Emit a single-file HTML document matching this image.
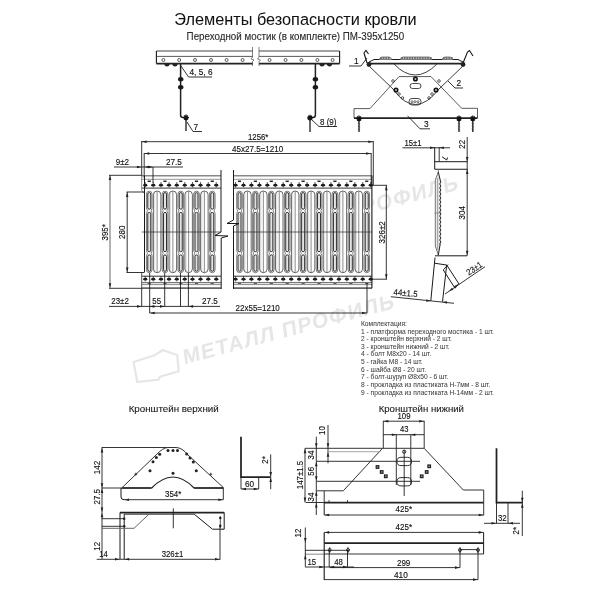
<!DOCTYPE html>
<html><head><meta charset="utf-8"><style>
html,body{margin:0;padding:0;background:#fff;}
svg{display:block;will-change:transform;filter:blur(0.35px);}
text{font-family:"Liberation Sans",sans-serif;}
</style></head><body>
<svg width="600" height="600" viewBox="0 0 600 600">
<rect width="600" height="600" fill="#fff"/>
<g fill="#e6e6e6" font-weight="bold" font-size="21">
<text x="184" y="364.5" transform="rotate(-15 184 364.5) translate(184 364.5) skewX(-8) translate(-184 -364.5)" textLength="218" lengthAdjust="spacing">МЕТАЛЛ ПРОФИЛЬ</text>
<text x="248" y="246" transform="rotate(-15 248 246) translate(248 246) skewX(-8) translate(-248 -246)" textLength="218" lengthAdjust="spacing">МЕТАЛЛ ПРОФИЛЬ</text>
</g>
<path d="M133.5,362 L154.7,355.3 L162.7,350 L177.3,355.3 L178.7,371.3 L160,376.7 L158.7,379.5 L137.3,382 Z" fill="none" stroke="#e6e6e6" stroke-width="2.2"/>
<text x="174.3" y="25" font-size="16.3" fill="#111" stroke="#111" stroke-width="0.03" text-anchor="start">Элементы безопасности кровли</text>
<text x="186.6" y="40" font-size="9.8" fill="#2a2a2a" stroke="#2a2a2a" stroke-width="0.12" text-anchor="start" transform="translate(186.6 40) scale(1 1.13) translate(-186.6 -40)">Переходной мостик (в комплекте) ПМ-395x1250</text>
<line x1="156.4" y1="51" x2="253" y2="51" stroke="#444" stroke-width="1.00"/>
<line x1="156.4" y1="56.4" x2="253" y2="56.4" stroke="#444" stroke-width="0.88"/>
<line x1="156.4" y1="63.6" x2="253" y2="63.6" stroke="#222" stroke-width="1.62"/>
<line x1="259" y1="51" x2="339.6" y2="51" stroke="#444" stroke-width="1.00"/>
<line x1="259" y1="56.4" x2="339.6" y2="56.4" stroke="#444" stroke-width="0.88"/>
<line x1="259" y1="63.6" x2="339.6" y2="63.6" stroke="#222" stroke-width="1.62"/>
<line x1="156.4" y1="51" x2="156.4" y2="63.6" stroke="#1a1a1a" stroke-width="1.12"/>
<line x1="339.6" y1="51" x2="339.6" y2="63.6" stroke="#1a1a1a" stroke-width="1.12"/>
<path d="M252.5,47 L252.5,57 L251,59 L254,60 L252.5,61.5 L252.5,66" fill="none" stroke="#555" stroke-width="0.75"/>
<path d="M259,47 L259,57 L257.5,59 L260.5,60 L259,61.5 L259,66" fill="none" stroke="#555" stroke-width="0.75"/>
<circle cx="163.4" cy="60" r="1.5" fill="none" stroke="#1a1a1a" stroke-width="0.7"/>
<circle cx="179.2" cy="60" r="1.5" fill="none" stroke="#1a1a1a" stroke-width="0.7"/>
<circle cx="195" cy="60" r="1.5" fill="none" stroke="#1a1a1a" stroke-width="0.7"/>
<circle cx="211" cy="60" r="1.5" fill="none" stroke="#1a1a1a" stroke-width="0.7"/>
<circle cx="226.6" cy="60" r="1.5" fill="none" stroke="#1a1a1a" stroke-width="0.7"/>
<circle cx="242.6" cy="60" r="1.5" fill="none" stroke="#1a1a1a" stroke-width="0.7"/>
<circle cx="269.6" cy="60" r="1.5" fill="none" stroke="#1a1a1a" stroke-width="0.7"/>
<circle cx="285.6" cy="60" r="1.5" fill="none" stroke="#1a1a1a" stroke-width="0.7"/>
<circle cx="301.4" cy="60" r="1.5" fill="none" stroke="#1a1a1a" stroke-width="0.7"/>
<circle cx="317.4" cy="60" r="1.5" fill="none" stroke="#1a1a1a" stroke-width="0.7"/>
<circle cx="332.6" cy="60" r="1.5" fill="none" stroke="#1a1a1a" stroke-width="0.7"/>
<path d="M164.4,64 A2.6,2.4 0 0 0 169.6,64 Z" fill="#222"/>
<path d="M172.4,64 A2.6,2.4 0 0 0 177.6,64 Z" fill="#222"/>
<path d="M319.4,64 A2.6,2.4 0 0 0 324.6,64 Z" fill="#222"/>
<path d="M326.9,64 A2.6,2.4 0 0 0 332.1,64 Z" fill="#222"/>
<path d="M180.6,64 L180.6,115 Q180.6,117.5 183,117.5 L186,117.5" fill="none" stroke="#222" stroke-width="1.50"/>
<ellipse cx="180.7" cy="79.3" rx="2.7" ry="2.2" fill="#1a1a1a"/>
<ellipse cx="180.7" cy="87.2" rx="2.7" ry="2.2" fill="#1a1a1a"/>
<path d="M183,117.5 L189,117.5 M186,114.5 L186,120.5 M184,115.5 L188,119.5 M188,115.5 L184,119.5" fill="none" stroke="#111" stroke-width="1.25"/>
<line x1="186" y1="119" x2="186" y2="131" stroke="#111" stroke-width="1.25"/>
<line x1="184" y1="117.5" x2="188" y2="117.5" stroke="#1a1a1a" stroke-width="1.00"/>
<path d="M315.4,64 L315.4,115 Q315.4,117.5 313,117.5 L310,117.5" fill="none" stroke="#222" stroke-width="1.50"/>
<ellipse cx="315.4" cy="79.3" rx="2.7" ry="2.2" fill="#1a1a1a"/>
<ellipse cx="315.4" cy="87.2" rx="2.7" ry="2.2" fill="#1a1a1a"/>
<path d="M307,117.8 L313,117.8 M310,114.8 L310,120.8 M308,115.8 L312,119.8 M312,115.8 L308,119.8" fill="none" stroke="#111" stroke-width="1.25"/>
<line x1="310" y1="119" x2="310" y2="132" stroke="#111" stroke-width="1.25"/>
<polyline points="181,66 188.5,77 212,77" fill="none" stroke="#1a1a1a" stroke-width="0.88"/>
<text x="189.5" y="75.5" font-size="8.3" fill="#111" stroke="#111" stroke-width="0.12" text-anchor="start" transform="translate(189.5 75.5) scale(1 1.13) translate(-189.5 -75.5)">4, 5, 6</text>
<polyline points="187,122 193,131.5 202,131.5" fill="none" stroke="#1a1a1a" stroke-width="0.88"/>
<text x="193.5" y="130" font-size="8.3" fill="#111" stroke="#111" stroke-width="0.12" text-anchor="start" transform="translate(193.5 130) scale(1 1.13) translate(-193.5 -130)">7</text>
<polyline points="312,120 319,126.5 337,126.5" fill="none" stroke="#1a1a1a" stroke-width="0.88"/>
<text x="320" y="125" font-size="8.0" fill="#111" stroke="#111" stroke-width="0.12" text-anchor="start" transform="translate(320 125) scale(1 1.13) translate(-320 -125)">8 (9)</text>
<line x1="367" y1="63.5" x2="463" y2="63.5" stroke="#222" stroke-width="1.75"/>
<path d="M369,62 L374,59.5 L458,59.5 L463,62" fill="none" stroke="#1a1a1a" stroke-width="1.00"/>
<path d="M379,59.5 Q380,57 382,57 L389,57 Q391,57 392,59.5" fill="#ddd" stroke="#555" stroke-width="0.7"/>
<ellipse cx="381.0" cy="58" rx="1.1" ry="0.9" fill="#666"/>
<ellipse cx="383.6" cy="58" rx="1.1" ry="0.9" fill="#666"/>
<ellipse cx="386.2" cy="58" rx="1.1" ry="0.9" fill="#666"/>
<ellipse cx="388.8" cy="58" rx="1.1" ry="0.9" fill="#666"/>
<path d="M400,59.5 Q401,57 403,57 L429,57 Q431,57 432,59.5" fill="#ddd" stroke="#555" stroke-width="0.7"/>
<ellipse cx="402.0" cy="58" rx="1.1" ry="0.9" fill="#666"/>
<ellipse cx="404.6" cy="58" rx="1.1" ry="0.9" fill="#666"/>
<ellipse cx="407.2" cy="58" rx="1.1" ry="0.9" fill="#666"/>
<ellipse cx="409.8" cy="58" rx="1.1" ry="0.9" fill="#666"/>
<ellipse cx="412.4" cy="58" rx="1.1" ry="0.9" fill="#666"/>
<ellipse cx="415.0" cy="58" rx="1.1" ry="0.9" fill="#666"/>
<ellipse cx="417.6" cy="58" rx="1.1" ry="0.9" fill="#666"/>
<ellipse cx="420.2" cy="58" rx="1.1" ry="0.9" fill="#666"/>
<ellipse cx="422.8" cy="58" rx="1.1" ry="0.9" fill="#666"/>
<ellipse cx="425.4" cy="58" rx="1.1" ry="0.9" fill="#666"/>
<ellipse cx="428.0" cy="58" rx="1.1" ry="0.9" fill="#666"/>
<ellipse cx="430.6" cy="58" rx="1.1" ry="0.9" fill="#666"/>
<path d="M442,59.5 Q443,57 445,57 L450,57 Q452,57 453,59.5" fill="#ddd" stroke="#555" stroke-width="0.7"/>
<ellipse cx="444.0" cy="58" rx="1.1" ry="0.9" fill="#666"/>
<ellipse cx="446.6" cy="58" rx="1.1" ry="0.9" fill="#666"/>
<ellipse cx="449.2" cy="58" rx="1.1" ry="0.9" fill="#666"/>
<ellipse cx="451.8" cy="58" rx="1.1" ry="0.9" fill="#666"/>
<path d="M367,63 L364,53 L366,50.5 L368.5,54" fill="none" stroke="#1a1a1a" stroke-width="1.12"/>
<path d="M463,63 L467.5,52 L469.5,50.5 L473,56" fill="none" stroke="#1a1a1a" stroke-width="1.12"/>
<circle cx="369" cy="64.5" r="2.4" fill="#222" stroke="#1a1a1a" stroke-width="0"/>
<circle cx="463" cy="64.5" r="2.4" fill="#222" stroke="#1a1a1a" stroke-width="0"/>
<path d="M394,64 Q415,86 437,64" fill="none" stroke="#333" stroke-width="0.94"/>
<path d="M369,66 L393,89 Q415,120 439,89 L463,66" fill="none" stroke="#333" stroke-width="0.94"/>
<path d="M354,108.6 L370,108.6 L399,76.6 L431,76.6 L461.7,108.3 L477.5,108.3 L477.5,118" fill="none" stroke="#444" stroke-width="0.88"/>
<line x1="354" y1="108.6" x2="354" y2="118" stroke="#444" stroke-width="0.88"/>
<line x1="354" y1="118" x2="477.5" y2="118" stroke="#222" stroke-width="1.75"/>
<circle cx="415.4" cy="79" r="1.8" fill="#bbb" stroke="#111" stroke-width="1.5"/>
<circle cx="396" cy="90" r="1.8" fill="#bbb" stroke="#111" stroke-width="1.5"/>
<circle cx="436" cy="90" r="1.8" fill="#bbb" stroke="#111" stroke-width="1.5"/>
<circle cx="393" cy="81" r="1.3" fill="none" stroke="#1a1a1a" stroke-width="0.7"/>
<circle cx="439" cy="81" r="1.3" fill="none" stroke="#1a1a1a" stroke-width="0.7"/>
<circle cx="399" cy="94" r="1.3" fill="none" stroke="#1a1a1a" stroke-width="0.7"/>
<circle cx="402.5" cy="98" r="1.3" fill="none" stroke="#1a1a1a" stroke-width="0.7"/>
<circle cx="432" cy="94" r="1.3" fill="none" stroke="#1a1a1a" stroke-width="0.7"/>
<circle cx="429" cy="98" r="1.3" fill="none" stroke="#1a1a1a" stroke-width="0.7"/>
<rect x="410" y="83.5" width="11" height="5" rx="2.5" fill="none" stroke="#1a1a1a" stroke-width="0.8"/>
<rect x="409" y="98.5" width="12" height="6.5" rx="3" fill="none" stroke="#1a1a1a" stroke-width="0.8"/>
<circle cx="412" cy="101.7" r="1.0" fill="none" stroke="#1a1a1a" stroke-width="0.6"/>
<circle cx="415" cy="101.7" r="1.0" fill="none" stroke="#1a1a1a" stroke-width="0.6"/>
<circle cx="418" cy="101.7" r="1.0" fill="none" stroke="#1a1a1a" stroke-width="0.6"/>
<path d="M356.2,118.5 L361.8,118.5 M359,115.5 L359,121.5 M357,116.5 L361,120.5 M361,116.5 L357,120.5" fill="none" stroke="#111" stroke-width="1.25"/>
<line x1="359" y1="120" x2="359" y2="132" stroke="#111" stroke-width="1.25"/>
<line x1="357.8" y1="123" x2="360.2" y2="124" stroke="#333" stroke-width="0.62"/>
<line x1="357.8" y1="126" x2="360.2" y2="127" stroke="#333" stroke-width="0.62"/>
<line x1="357.8" y1="129" x2="360.2" y2="130" stroke="#333" stroke-width="0.62"/>
<path d="M456.2,118.5 L461.8,118.5 M459,115.5 L459,121.5 M457,116.5 L461,120.5 M461,116.5 L457,120.5" fill="none" stroke="#111" stroke-width="1.25"/>
<line x1="459" y1="120" x2="459" y2="132" stroke="#111" stroke-width="1.25"/>
<line x1="457.8" y1="123" x2="460.2" y2="124" stroke="#333" stroke-width="0.62"/>
<line x1="457.8" y1="126" x2="460.2" y2="127" stroke="#333" stroke-width="0.62"/>
<line x1="457.8" y1="129" x2="460.2" y2="130" stroke="#333" stroke-width="0.62"/>
<path d="M470.0,118.5 L475.6,118.5 M472.8,115.5 L472.8,121.5 M470.8,116.5 L474.8,120.5 M474.8,116.5 L470.8,120.5" fill="none" stroke="#111" stroke-width="1.25"/>
<line x1="472.8" y1="120" x2="472.8" y2="132" stroke="#111" stroke-width="1.25"/>
<line x1="471.6" y1="123" x2="474.0" y2="124" stroke="#333" stroke-width="0.62"/>
<line x1="471.6" y1="126" x2="474.0" y2="127" stroke="#333" stroke-width="0.62"/>
<line x1="471.6" y1="129" x2="474.0" y2="130" stroke="#333" stroke-width="0.62"/>
<polyline points="349,66 361,66 367,58" fill="none" stroke="#1a1a1a" stroke-width="0.88"/>
<text x="354" y="64.5" font-size="8.3" fill="#111" stroke="#111" stroke-width="0.12" text-anchor="start" transform="translate(354 64.5) scale(1 1.13) translate(-354 -64.5)">1</text>
<polyline points="448,81 455,88 463,88" fill="none" stroke="#1a1a1a" stroke-width="0.88"/>
<text x="456.5" y="86.5" font-size="8.3" fill="#111" stroke="#111" stroke-width="0.12" text-anchor="start" transform="translate(456.5 86.5) scale(1 1.13) translate(-456.5 -86.5)">2</text>
<polyline points="407.5,115.8 420,128.8 430,128.8" fill="none" stroke="#1a1a1a" stroke-width="0.88"/>
<text x="424" y="127.5" font-size="8.3" fill="#111" stroke="#111" stroke-width="0.12" text-anchor="start" transform="translate(424 127.5) scale(1 1.13) translate(-424 -127.5)">3</text>
<rect x="141.7" y="175" width="79.3" height="113.3" fill="#fff"/>
<rect x="233.5" y="175" width="139.1" height="113.3" fill="#fff"/>
<line x1="141.7" y1="175.7" x2="221" y2="175.7" stroke="#888" stroke-width="1.62"/>
<line x1="141.7" y1="179.3" x2="221" y2="179.3" stroke="#888" stroke-width="0.88"/>
<line x1="141.7" y1="188.1" x2="221" y2="188.1" stroke="#333" stroke-width="1.00"/>
<line x1="141.7" y1="276.2" x2="221" y2="276.2" stroke="#333" stroke-width="1.00"/>
<line x1="141.7" y1="282.7" x2="221" y2="282.7" stroke="#444" stroke-width="0.88"/>
<line x1="141.7" y1="284.6" x2="221" y2="284.6" stroke="#666" stroke-width="0.75"/>
<line x1="141.7" y1="288.1" x2="221" y2="288.1" stroke="#666" stroke-width="1.62"/>
<ellipse cx="145.25" cy="185.2" rx="2.1" ry="1.35" fill="#1a1a1a"/>
<line x1="145.25" y1="182.0" x2="145.25" y2="187.39999999999998" stroke="#222" stroke-width="0.69"/>
<ellipse cx="145.25" cy="279.2" rx="2.1" ry="1.35" fill="#1a1a1a"/>
<line x1="145.25" y1="276.0" x2="145.25" y2="281.4" stroke="#222" stroke-width="0.69"/>
<ellipse cx="153.25" cy="185.2" rx="2.1" ry="1.35" fill="#1a1a1a"/>
<line x1="153.25" y1="182.0" x2="153.25" y2="187.39999999999998" stroke="#222" stroke-width="0.69"/>
<ellipse cx="153.25" cy="279.2" rx="2.1" ry="1.35" fill="#1a1a1a"/>
<line x1="153.25" y1="276.0" x2="153.25" y2="281.4" stroke="#222" stroke-width="0.69"/>
<ellipse cx="161.00" cy="185.2" rx="2.1" ry="1.35" fill="#1a1a1a"/>
<line x1="161.0" y1="182.0" x2="161.0" y2="187.39999999999998" stroke="#222" stroke-width="0.69"/>
<ellipse cx="161.00" cy="279.2" rx="2.1" ry="1.35" fill="#1a1a1a"/>
<line x1="161.0" y1="276.0" x2="161.0" y2="281.4" stroke="#222" stroke-width="0.69"/>
<ellipse cx="169.00" cy="185.2" rx="2.1" ry="1.35" fill="#1a1a1a"/>
<line x1="169.0" y1="182.0" x2="169.0" y2="187.39999999999998" stroke="#222" stroke-width="0.69"/>
<ellipse cx="169.00" cy="279.2" rx="2.1" ry="1.35" fill="#1a1a1a"/>
<line x1="169.0" y1="276.0" x2="169.0" y2="281.4" stroke="#222" stroke-width="0.69"/>
<ellipse cx="176.75" cy="185.2" rx="2.1" ry="1.35" fill="#1a1a1a"/>
<line x1="176.75" y1="182.0" x2="176.75" y2="187.39999999999998" stroke="#222" stroke-width="0.69"/>
<ellipse cx="176.75" cy="279.2" rx="2.1" ry="1.35" fill="#1a1a1a"/>
<line x1="176.75" y1="276.0" x2="176.75" y2="281.4" stroke="#222" stroke-width="0.69"/>
<ellipse cx="184.75" cy="185.2" rx="2.1" ry="1.35" fill="#1a1a1a"/>
<line x1="184.75" y1="182.0" x2="184.75" y2="187.39999999999998" stroke="#222" stroke-width="0.69"/>
<ellipse cx="184.75" cy="279.2" rx="2.1" ry="1.35" fill="#1a1a1a"/>
<line x1="184.75" y1="276.0" x2="184.75" y2="281.4" stroke="#222" stroke-width="0.69"/>
<ellipse cx="192.50" cy="185.2" rx="2.1" ry="1.35" fill="#1a1a1a"/>
<line x1="192.5" y1="182.0" x2="192.5" y2="187.39999999999998" stroke="#222" stroke-width="0.69"/>
<ellipse cx="192.50" cy="279.2" rx="2.1" ry="1.35" fill="#1a1a1a"/>
<line x1="192.5" y1="276.0" x2="192.5" y2="281.4" stroke="#222" stroke-width="0.69"/>
<ellipse cx="200.50" cy="185.2" rx="2.1" ry="1.35" fill="#1a1a1a"/>
<line x1="200.5" y1="182.0" x2="200.5" y2="187.39999999999998" stroke="#222" stroke-width="0.69"/>
<ellipse cx="200.50" cy="279.2" rx="2.1" ry="1.35" fill="#1a1a1a"/>
<line x1="200.5" y1="276.0" x2="200.5" y2="281.4" stroke="#222" stroke-width="0.69"/>
<ellipse cx="208.25" cy="185.2" rx="2.1" ry="1.35" fill="#1a1a1a"/>
<line x1="208.25" y1="182.0" x2="208.25" y2="187.39999999999998" stroke="#222" stroke-width="0.69"/>
<ellipse cx="208.25" cy="279.2" rx="2.1" ry="1.35" fill="#1a1a1a"/>
<line x1="208.25" y1="276.0" x2="208.25" y2="281.4" stroke="#222" stroke-width="0.69"/>
<ellipse cx="216.25" cy="185.2" rx="2.1" ry="1.35" fill="#1a1a1a"/>
<line x1="216.25" y1="182.0" x2="216.25" y2="187.39999999999998" stroke="#222" stroke-width="0.69"/>
<ellipse cx="216.25" cy="279.2" rx="2.1" ry="1.35" fill="#1a1a1a"/>
<line x1="216.25" y1="276.0" x2="216.25" y2="281.4" stroke="#222" stroke-width="0.69"/>
<line x1="147.65" y1="181.3" x2="150.85" y2="181.3" stroke="#222" stroke-width="1.50"/>
<line x1="147.65" y1="283.4" x2="150.85" y2="283.4" stroke="#555" stroke-width="1.12"/>
<line x1="163.4" y1="181.3" x2="166.6" y2="181.3" stroke="#222" stroke-width="1.50"/>
<line x1="163.4" y1="283.4" x2="166.6" y2="283.4" stroke="#555" stroke-width="1.12"/>
<line x1="179.15" y1="181.3" x2="182.35" y2="181.3" stroke="#222" stroke-width="1.50"/>
<line x1="179.15" y1="283.4" x2="182.35" y2="283.4" stroke="#555" stroke-width="1.12"/>
<line x1="194.9" y1="181.3" x2="198.1" y2="181.3" stroke="#222" stroke-width="1.50"/>
<line x1="194.9" y1="283.4" x2="198.1" y2="283.4" stroke="#555" stroke-width="1.12"/>
<line x1="210.65" y1="181.3" x2="213.85" y2="181.3" stroke="#222" stroke-width="1.50"/>
<line x1="210.65" y1="283.4" x2="213.85" y2="283.4" stroke="#555" stroke-width="1.12"/>
<rect x="153.93" y="193" width="1.4" height="78" fill="#e6e6e6"/>
<rect x="153.38" y="191" width="7.5" height="81.7" rx="3.75" fill="none" stroke="#333" stroke-width="0.75"/>
<line x1="157.12" y1="191.5" x2="157.12" y2="272.5" stroke="#444" stroke-width="0.62"/>
<path d="M146.45,194 L146.45,208.3 Q148.45,210.8 146.45,213.3 L146.45,250.8 Q148.45,253.3 146.45,255.8 L146.45,269.9 A2.8,2.8 0 0 0 152.05,269.9 L152.05,255.8 Q150.05,253.3 152.05,250.8 L152.05,213.3 Q150.05,210.8 152.05,208.3 L152.05,194.0 A2.8,2.8 0 0 0 146.45,194.0 Z" fill="none" stroke="#444" stroke-width="0.7"/>
<rect x="147.75" y="192.6" width="3.0" height="16.60" rx="1.5" fill="#e4e4e4" stroke="#111" stroke-width="0.85"/>
<rect x="147.75" y="212.4" width="3.0" height="39.30" rx="1.5" fill="#e4e4e4" stroke="#111" stroke-width="0.85"/>
<rect x="147.75" y="254.9" width="3.0" height="16.40" rx="1.5" fill="#e4e4e4" stroke="#111" stroke-width="0.85"/>
<rect x="169.68" y="193" width="1.4" height="78" fill="#e6e6e6"/>
<rect x="169.12" y="191" width="7.5" height="81.7" rx="3.75" fill="none" stroke="#333" stroke-width="0.75"/>
<line x1="172.88" y1="191.5" x2="172.88" y2="272.5" stroke="#444" stroke-width="0.62"/>
<path d="M162.20,194 L162.20,208.3 Q164.20,210.8 162.20,213.3 L162.20,250.8 Q164.20,253.3 162.20,255.8 L162.20,269.9 A2.8,2.8 0 0 0 167.80,269.9 L167.80,255.8 Q165.80,253.3 167.80,250.8 L167.80,213.3 Q165.80,210.8 167.80,208.3 L167.80,194.0 A2.8,2.8 0 0 0 162.20,194.0 Z" fill="none" stroke="#444" stroke-width="0.7"/>
<rect x="163.50" y="192.6" width="3.0" height="16.60" rx="1.5" fill="#e4e4e4" stroke="#111" stroke-width="0.85"/>
<rect x="163.50" y="212.4" width="3.0" height="39.30" rx="1.5" fill="#e4e4e4" stroke="#111" stroke-width="0.85"/>
<rect x="163.50" y="254.9" width="3.0" height="16.40" rx="1.5" fill="#e4e4e4" stroke="#111" stroke-width="0.85"/>
<rect x="185.43" y="193" width="1.4" height="78" fill="#e6e6e6"/>
<rect x="184.88" y="191" width="7.5" height="81.7" rx="3.75" fill="none" stroke="#333" stroke-width="0.75"/>
<line x1="188.62" y1="191.5" x2="188.62" y2="272.5" stroke="#444" stroke-width="0.62"/>
<path d="M177.95,194 L177.95,208.3 Q179.95,210.8 177.95,213.3 L177.95,250.8 Q179.95,253.3 177.95,255.8 L177.95,269.9 A2.8,2.8 0 0 0 183.55,269.9 L183.55,255.8 Q181.55,253.3 183.55,250.8 L183.55,213.3 Q181.55,210.8 183.55,208.3 L183.55,194.0 A2.8,2.8 0 0 0 177.95,194.0 Z" fill="none" stroke="#444" stroke-width="0.7"/>
<rect x="179.25" y="192.6" width="3.0" height="16.60" rx="1.5" fill="#e4e4e4" stroke="#111" stroke-width="0.85"/>
<rect x="179.25" y="212.4" width="3.0" height="39.30" rx="1.5" fill="#e4e4e4" stroke="#111" stroke-width="0.85"/>
<rect x="179.25" y="254.9" width="3.0" height="16.40" rx="1.5" fill="#e4e4e4" stroke="#111" stroke-width="0.85"/>
<rect x="201.18" y="193" width="1.4" height="78" fill="#e6e6e6"/>
<rect x="200.62" y="191" width="7.5" height="81.7" rx="3.75" fill="none" stroke="#333" stroke-width="0.75"/>
<line x1="204.38" y1="191.5" x2="204.38" y2="272.5" stroke="#444" stroke-width="0.62"/>
<path d="M193.70,194 L193.70,208.3 Q195.70,210.8 193.70,213.3 L193.70,250.8 Q195.70,253.3 193.70,255.8 L193.70,269.9 A2.8,2.8 0 0 0 199.30,269.9 L199.30,255.8 Q197.30,253.3 199.30,250.8 L199.30,213.3 Q197.30,210.8 199.30,208.3 L199.30,194.0 A2.8,2.8 0 0 0 193.70,194.0 Z" fill="none" stroke="#444" stroke-width="0.7"/>
<rect x="195.00" y="192.6" width="3.0" height="16.60" rx="1.5" fill="#e4e4e4" stroke="#111" stroke-width="0.85"/>
<rect x="195.00" y="212.4" width="3.0" height="39.30" rx="1.5" fill="#e4e4e4" stroke="#111" stroke-width="0.85"/>
<rect x="195.00" y="254.9" width="3.0" height="16.40" rx="1.5" fill="#e4e4e4" stroke="#111" stroke-width="0.85"/>
<path d="M209.45,194 L209.45,208.3 Q211.45,210.8 209.45,213.3 L209.45,250.8 Q211.45,253.3 209.45,255.8 L209.45,269.9 A2.8,2.8 0 0 0 215.05,269.9 L215.05,255.8 Q213.05,253.3 215.05,250.8 L215.05,213.3 Q213.05,210.8 215.05,208.3 L215.05,194.0 A2.8,2.8 0 0 0 209.45,194.0 Z" fill="none" stroke="#444" stroke-width="0.7"/>
<rect x="210.75" y="192.6" width="3.0" height="16.60" rx="1.5" fill="#e4e4e4" stroke="#111" stroke-width="0.85"/>
<rect x="210.75" y="212.4" width="3.0" height="39.30" rx="1.5" fill="#e4e4e4" stroke="#111" stroke-width="0.85"/>
<rect x="210.75" y="254.9" width="3.0" height="16.40" rx="1.5" fill="#e4e4e4" stroke="#111" stroke-width="0.85"/>
<line x1="141.7" y1="232" x2="221" y2="232" stroke="#333" stroke-width="0.75"/>
<line x1="233.5" y1="175.7" x2="372" y2="175.7" stroke="#888" stroke-width="1.62"/>
<line x1="233.5" y1="179.3" x2="372" y2="179.3" stroke="#888" stroke-width="0.88"/>
<line x1="233.5" y1="188.1" x2="372" y2="188.1" stroke="#333" stroke-width="1.00"/>
<line x1="233.5" y1="276.2" x2="372" y2="276.2" stroke="#333" stroke-width="1.00"/>
<line x1="233.5" y1="282.7" x2="372" y2="282.7" stroke="#444" stroke-width="0.88"/>
<line x1="233.5" y1="284.6" x2="372" y2="284.6" stroke="#666" stroke-width="0.75"/>
<line x1="233.5" y1="288.1" x2="372" y2="288.1" stroke="#666" stroke-width="1.62"/>
<ellipse cx="235.50" cy="185.2" rx="2.1" ry="1.35" fill="#1a1a1a"/>
<line x1="235.5" y1="182.0" x2="235.5" y2="187.39999999999998" stroke="#222" stroke-width="0.69"/>
<ellipse cx="235.50" cy="279.2" rx="2.1" ry="1.35" fill="#1a1a1a"/>
<line x1="235.5" y1="276.0" x2="235.5" y2="281.4" stroke="#222" stroke-width="0.69"/>
<ellipse cx="243.50" cy="185.2" rx="2.1" ry="1.35" fill="#1a1a1a"/>
<line x1="243.5" y1="182.0" x2="243.5" y2="187.39999999999998" stroke="#222" stroke-width="0.69"/>
<ellipse cx="243.50" cy="279.2" rx="2.1" ry="1.35" fill="#1a1a1a"/>
<line x1="243.5" y1="276.0" x2="243.5" y2="281.4" stroke="#222" stroke-width="0.69"/>
<ellipse cx="251.41" cy="185.2" rx="2.1" ry="1.35" fill="#1a1a1a"/>
<line x1="251.41" y1="182.0" x2="251.41" y2="187.39999999999998" stroke="#222" stroke-width="0.69"/>
<ellipse cx="251.41" cy="279.2" rx="2.1" ry="1.35" fill="#1a1a1a"/>
<line x1="251.41" y1="276.0" x2="251.41" y2="281.4" stroke="#222" stroke-width="0.69"/>
<ellipse cx="259.41" cy="185.2" rx="2.1" ry="1.35" fill="#1a1a1a"/>
<line x1="259.41" y1="182.0" x2="259.41" y2="187.39999999999998" stroke="#222" stroke-width="0.69"/>
<ellipse cx="259.41" cy="279.2" rx="2.1" ry="1.35" fill="#1a1a1a"/>
<line x1="259.41" y1="276.0" x2="259.41" y2="281.4" stroke="#222" stroke-width="0.69"/>
<ellipse cx="267.31" cy="185.2" rx="2.1" ry="1.35" fill="#1a1a1a"/>
<line x1="267.31" y1="182.0" x2="267.31" y2="187.39999999999998" stroke="#222" stroke-width="0.69"/>
<ellipse cx="267.31" cy="279.2" rx="2.1" ry="1.35" fill="#1a1a1a"/>
<line x1="267.31" y1="276.0" x2="267.31" y2="281.4" stroke="#222" stroke-width="0.69"/>
<ellipse cx="275.31" cy="185.2" rx="2.1" ry="1.35" fill="#1a1a1a"/>
<line x1="275.31" y1="182.0" x2="275.31" y2="187.39999999999998" stroke="#222" stroke-width="0.69"/>
<ellipse cx="275.31" cy="279.2" rx="2.1" ry="1.35" fill="#1a1a1a"/>
<line x1="275.31" y1="276.0" x2="275.31" y2="281.4" stroke="#222" stroke-width="0.69"/>
<ellipse cx="283.22" cy="185.2" rx="2.1" ry="1.35" fill="#1a1a1a"/>
<line x1="283.22" y1="182.0" x2="283.22" y2="187.39999999999998" stroke="#222" stroke-width="0.69"/>
<ellipse cx="283.22" cy="279.2" rx="2.1" ry="1.35" fill="#1a1a1a"/>
<line x1="283.22" y1="276.0" x2="283.22" y2="281.4" stroke="#222" stroke-width="0.69"/>
<ellipse cx="291.22" cy="185.2" rx="2.1" ry="1.35" fill="#1a1a1a"/>
<line x1="291.22" y1="182.0" x2="291.22" y2="187.39999999999998" stroke="#222" stroke-width="0.69"/>
<ellipse cx="291.22" cy="279.2" rx="2.1" ry="1.35" fill="#1a1a1a"/>
<line x1="291.22" y1="276.0" x2="291.22" y2="281.4" stroke="#222" stroke-width="0.69"/>
<ellipse cx="299.12" cy="185.2" rx="2.1" ry="1.35" fill="#1a1a1a"/>
<line x1="299.12" y1="182.0" x2="299.12" y2="187.39999999999998" stroke="#222" stroke-width="0.69"/>
<ellipse cx="299.12" cy="279.2" rx="2.1" ry="1.35" fill="#1a1a1a"/>
<line x1="299.12" y1="276.0" x2="299.12" y2="281.4" stroke="#222" stroke-width="0.69"/>
<ellipse cx="307.12" cy="185.2" rx="2.1" ry="1.35" fill="#1a1a1a"/>
<line x1="307.12" y1="182.0" x2="307.12" y2="187.39999999999998" stroke="#222" stroke-width="0.69"/>
<ellipse cx="307.12" cy="279.2" rx="2.1" ry="1.35" fill="#1a1a1a"/>
<line x1="307.12" y1="276.0" x2="307.12" y2="281.4" stroke="#222" stroke-width="0.69"/>
<ellipse cx="315.03" cy="185.2" rx="2.1" ry="1.35" fill="#1a1a1a"/>
<line x1="315.03" y1="182.0" x2="315.03" y2="187.39999999999998" stroke="#222" stroke-width="0.69"/>
<ellipse cx="315.03" cy="279.2" rx="2.1" ry="1.35" fill="#1a1a1a"/>
<line x1="315.03" y1="276.0" x2="315.03" y2="281.4" stroke="#222" stroke-width="0.69"/>
<ellipse cx="323.03" cy="185.2" rx="2.1" ry="1.35" fill="#1a1a1a"/>
<line x1="323.03" y1="182.0" x2="323.03" y2="187.39999999999998" stroke="#222" stroke-width="0.69"/>
<ellipse cx="323.03" cy="279.2" rx="2.1" ry="1.35" fill="#1a1a1a"/>
<line x1="323.03" y1="276.0" x2="323.03" y2="281.4" stroke="#222" stroke-width="0.69"/>
<ellipse cx="330.94" cy="185.2" rx="2.1" ry="1.35" fill="#1a1a1a"/>
<line x1="330.94" y1="182.0" x2="330.94" y2="187.39999999999998" stroke="#222" stroke-width="0.69"/>
<ellipse cx="330.94" cy="279.2" rx="2.1" ry="1.35" fill="#1a1a1a"/>
<line x1="330.94" y1="276.0" x2="330.94" y2="281.4" stroke="#222" stroke-width="0.69"/>
<ellipse cx="338.94" cy="185.2" rx="2.1" ry="1.35" fill="#1a1a1a"/>
<line x1="338.94" y1="182.0" x2="338.94" y2="187.39999999999998" stroke="#222" stroke-width="0.69"/>
<ellipse cx="338.94" cy="279.2" rx="2.1" ry="1.35" fill="#1a1a1a"/>
<line x1="338.94" y1="276.0" x2="338.94" y2="281.4" stroke="#222" stroke-width="0.69"/>
<ellipse cx="346.84" cy="185.2" rx="2.1" ry="1.35" fill="#1a1a1a"/>
<line x1="346.84" y1="182.0" x2="346.84" y2="187.39999999999998" stroke="#222" stroke-width="0.69"/>
<ellipse cx="346.84" cy="279.2" rx="2.1" ry="1.35" fill="#1a1a1a"/>
<line x1="346.84" y1="276.0" x2="346.84" y2="281.4" stroke="#222" stroke-width="0.69"/>
<ellipse cx="354.84" cy="185.2" rx="2.1" ry="1.35" fill="#1a1a1a"/>
<line x1="354.84" y1="182.0" x2="354.84" y2="187.39999999999998" stroke="#222" stroke-width="0.69"/>
<ellipse cx="354.84" cy="279.2" rx="2.1" ry="1.35" fill="#1a1a1a"/>
<line x1="354.84" y1="276.0" x2="354.84" y2="281.4" stroke="#222" stroke-width="0.69"/>
<ellipse cx="362.75" cy="185.2" rx="2.1" ry="1.35" fill="#1a1a1a"/>
<line x1="362.75" y1="182.0" x2="362.75" y2="187.39999999999998" stroke="#222" stroke-width="0.69"/>
<ellipse cx="362.75" cy="279.2" rx="2.1" ry="1.35" fill="#1a1a1a"/>
<line x1="362.75" y1="276.0" x2="362.75" y2="281.4" stroke="#222" stroke-width="0.69"/>
<ellipse cx="370.75" cy="185.2" rx="2.1" ry="1.35" fill="#1a1a1a"/>
<line x1="370.75" y1="182.0" x2="370.75" y2="187.39999999999998" stroke="#222" stroke-width="0.69"/>
<ellipse cx="370.75" cy="279.2" rx="2.1" ry="1.35" fill="#1a1a1a"/>
<line x1="370.75" y1="276.0" x2="370.75" y2="281.4" stroke="#222" stroke-width="0.69"/>
<line x1="237.9" y1="181.3" x2="241.1" y2="181.3" stroke="#222" stroke-width="1.50"/>
<line x1="237.9" y1="283.4" x2="241.1" y2="283.4" stroke="#555" stroke-width="1.12"/>
<line x1="253.806" y1="181.3" x2="257.00600000000003" y2="181.3" stroke="#222" stroke-width="1.50"/>
<line x1="253.806" y1="283.4" x2="257.00600000000003" y2="283.4" stroke="#555" stroke-width="1.12"/>
<line x1="269.712" y1="181.3" x2="272.91200000000003" y2="181.3" stroke="#222" stroke-width="1.50"/>
<line x1="269.712" y1="283.4" x2="272.91200000000003" y2="283.4" stroke="#555" stroke-width="1.12"/>
<line x1="285.618" y1="181.3" x2="288.81800000000004" y2="181.3" stroke="#222" stroke-width="1.50"/>
<line x1="285.618" y1="283.4" x2="288.81800000000004" y2="283.4" stroke="#555" stroke-width="1.12"/>
<line x1="301.524" y1="181.3" x2="304.72400000000005" y2="181.3" stroke="#222" stroke-width="1.50"/>
<line x1="301.524" y1="283.4" x2="304.72400000000005" y2="283.4" stroke="#555" stroke-width="1.12"/>
<line x1="317.42999999999995" y1="181.3" x2="320.63" y2="181.3" stroke="#222" stroke-width="1.50"/>
<line x1="317.42999999999995" y1="283.4" x2="320.63" y2="283.4" stroke="#555" stroke-width="1.12"/>
<line x1="333.336" y1="181.3" x2="336.53600000000006" y2="181.3" stroke="#222" stroke-width="1.50"/>
<line x1="333.336" y1="283.4" x2="336.53600000000006" y2="283.4" stroke="#555" stroke-width="1.12"/>
<line x1="349.24199999999996" y1="181.3" x2="352.442" y2="181.3" stroke="#222" stroke-width="1.50"/>
<line x1="349.24199999999996" y1="283.4" x2="352.442" y2="283.4" stroke="#555" stroke-width="1.12"/>
<line x1="365.14799999999997" y1="181.3" x2="368.348" y2="181.3" stroke="#222" stroke-width="1.50"/>
<line x1="365.14799999999997" y1="283.4" x2="368.348" y2="283.4" stroke="#555" stroke-width="1.12"/>
<rect x="244.25" y="193" width="1.4" height="78" fill="#e6e6e6"/>
<rect x="243.70" y="191" width="7.5" height="81.7" rx="3.75" fill="none" stroke="#333" stroke-width="0.75"/>
<line x1="247.45" y1="191.5" x2="247.45" y2="272.5" stroke="#444" stroke-width="0.62"/>
<path d="M236.70,194 L236.70,208.3 Q238.70,210.8 236.70,213.3 L236.70,250.8 Q238.70,253.3 236.70,255.8 L236.70,269.9 A2.8,2.8 0 0 0 242.30,269.9 L242.30,255.8 Q240.30,253.3 242.30,250.8 L242.30,213.3 Q240.30,210.8 242.30,208.3 L242.30,194.0 A2.8,2.8 0 0 0 236.70,194.0 Z" fill="none" stroke="#444" stroke-width="0.7"/>
<rect x="238.00" y="192.6" width="3.0" height="16.60" rx="1.5" fill="#e4e4e4" stroke="#111" stroke-width="0.85"/>
<rect x="238.00" y="212.4" width="3.0" height="39.30" rx="1.5" fill="#e4e4e4" stroke="#111" stroke-width="0.85"/>
<rect x="238.00" y="254.9" width="3.0" height="16.40" rx="1.5" fill="#e4e4e4" stroke="#111" stroke-width="0.85"/>
<rect x="260.16" y="193" width="1.4" height="78" fill="#e6e6e6"/>
<rect x="259.61" y="191" width="7.5" height="81.7" rx="3.75" fill="none" stroke="#333" stroke-width="0.75"/>
<line x1="263.36" y1="191.5" x2="263.36" y2="272.5" stroke="#444" stroke-width="0.62"/>
<path d="M252.61,194 L252.61,208.3 Q254.61,210.8 252.61,213.3 L252.61,250.8 Q254.61,253.3 252.61,255.8 L252.61,269.9 A2.8,2.8 0 0 0 258.21,269.9 L258.21,255.8 Q256.21,253.3 258.21,250.8 L258.21,213.3 Q256.21,210.8 258.21,208.3 L258.21,194.0 A2.8,2.8 0 0 0 252.61,194.0 Z" fill="none" stroke="#444" stroke-width="0.7"/>
<rect x="253.91" y="192.6" width="3.0" height="16.60" rx="1.5" fill="#e4e4e4" stroke="#111" stroke-width="0.85"/>
<rect x="253.91" y="212.4" width="3.0" height="39.30" rx="1.5" fill="#e4e4e4" stroke="#111" stroke-width="0.85"/>
<rect x="253.91" y="254.9" width="3.0" height="16.40" rx="1.5" fill="#e4e4e4" stroke="#111" stroke-width="0.85"/>
<rect x="276.06" y="193" width="1.4" height="78" fill="#e6e6e6"/>
<rect x="275.51" y="191" width="7.5" height="81.7" rx="3.75" fill="none" stroke="#333" stroke-width="0.75"/>
<line x1="279.26" y1="191.5" x2="279.26" y2="272.5" stroke="#444" stroke-width="0.62"/>
<path d="M268.51,194 L268.51,208.3 Q270.51,210.8 268.51,213.3 L268.51,250.8 Q270.51,253.3 268.51,255.8 L268.51,269.9 A2.8,2.8 0 0 0 274.11,269.9 L274.11,255.8 Q272.11,253.3 274.11,250.8 L274.11,213.3 Q272.11,210.8 274.11,208.3 L274.11,194.0 A2.8,2.8 0 0 0 268.51,194.0 Z" fill="none" stroke="#444" stroke-width="0.7"/>
<rect x="269.81" y="192.6" width="3.0" height="16.60" rx="1.5" fill="#e4e4e4" stroke="#111" stroke-width="0.85"/>
<rect x="269.81" y="212.4" width="3.0" height="39.30" rx="1.5" fill="#e4e4e4" stroke="#111" stroke-width="0.85"/>
<rect x="269.81" y="254.9" width="3.0" height="16.40" rx="1.5" fill="#e4e4e4" stroke="#111" stroke-width="0.85"/>
<rect x="291.97" y="193" width="1.4" height="78" fill="#e6e6e6"/>
<rect x="291.42" y="191" width="7.5" height="81.7" rx="3.75" fill="none" stroke="#333" stroke-width="0.75"/>
<line x1="295.17" y1="191.5" x2="295.17" y2="272.5" stroke="#444" stroke-width="0.62"/>
<path d="M284.42,194 L284.42,208.3 Q286.42,210.8 284.42,213.3 L284.42,250.8 Q286.42,253.3 284.42,255.8 L284.42,269.9 A2.8,2.8 0 0 0 290.02,269.9 L290.02,255.8 Q288.02,253.3 290.02,250.8 L290.02,213.3 Q288.02,210.8 290.02,208.3 L290.02,194.0 A2.8,2.8 0 0 0 284.42,194.0 Z" fill="none" stroke="#444" stroke-width="0.7"/>
<rect x="285.72" y="192.6" width="3.0" height="16.60" rx="1.5" fill="#e4e4e4" stroke="#111" stroke-width="0.85"/>
<rect x="285.72" y="212.4" width="3.0" height="39.30" rx="1.5" fill="#e4e4e4" stroke="#111" stroke-width="0.85"/>
<rect x="285.72" y="254.9" width="3.0" height="16.40" rx="1.5" fill="#e4e4e4" stroke="#111" stroke-width="0.85"/>
<rect x="307.88" y="193" width="1.4" height="78" fill="#e6e6e6"/>
<rect x="307.33" y="191" width="7.5" height="81.7" rx="3.75" fill="none" stroke="#333" stroke-width="0.75"/>
<line x1="311.08" y1="191.5" x2="311.08" y2="272.5" stroke="#444" stroke-width="0.62"/>
<path d="M300.32,194 L300.32,208.3 Q302.32,210.8 300.32,213.3 L300.32,250.8 Q302.32,253.3 300.32,255.8 L300.32,269.9 A2.8,2.8 0 0 0 305.92,269.9 L305.92,255.8 Q303.92,253.3 305.92,250.8 L305.92,213.3 Q303.92,210.8 305.92,208.3 L305.92,194.0 A2.8,2.8 0 0 0 300.32,194.0 Z" fill="none" stroke="#444" stroke-width="0.7"/>
<rect x="301.62" y="192.6" width="3.0" height="16.60" rx="1.5" fill="#e4e4e4" stroke="#111" stroke-width="0.85"/>
<rect x="301.62" y="212.4" width="3.0" height="39.30" rx="1.5" fill="#e4e4e4" stroke="#111" stroke-width="0.85"/>
<rect x="301.62" y="254.9" width="3.0" height="16.40" rx="1.5" fill="#e4e4e4" stroke="#111" stroke-width="0.85"/>
<rect x="323.78" y="193" width="1.4" height="78" fill="#e6e6e6"/>
<rect x="323.23" y="191" width="7.5" height="81.7" rx="3.75" fill="none" stroke="#333" stroke-width="0.75"/>
<line x1="326.98" y1="191.5" x2="326.98" y2="272.5" stroke="#444" stroke-width="0.62"/>
<path d="M316.23,194 L316.23,208.3 Q318.23,210.8 316.23,213.3 L316.23,250.8 Q318.23,253.3 316.23,255.8 L316.23,269.9 A2.8,2.8 0 0 0 321.83,269.9 L321.83,255.8 Q319.83,253.3 321.83,250.8 L321.83,213.3 Q319.83,210.8 321.83,208.3 L321.83,194.0 A2.8,2.8 0 0 0 316.23,194.0 Z" fill="none" stroke="#444" stroke-width="0.7"/>
<rect x="317.53" y="192.6" width="3.0" height="16.60" rx="1.5" fill="#e4e4e4" stroke="#111" stroke-width="0.85"/>
<rect x="317.53" y="212.4" width="3.0" height="39.30" rx="1.5" fill="#e4e4e4" stroke="#111" stroke-width="0.85"/>
<rect x="317.53" y="254.9" width="3.0" height="16.40" rx="1.5" fill="#e4e4e4" stroke="#111" stroke-width="0.85"/>
<rect x="339.69" y="193" width="1.4" height="78" fill="#e6e6e6"/>
<rect x="339.14" y="191" width="7.5" height="81.7" rx="3.75" fill="none" stroke="#333" stroke-width="0.75"/>
<line x1="342.89" y1="191.5" x2="342.89" y2="272.5" stroke="#444" stroke-width="0.62"/>
<path d="M332.14,194 L332.14,208.3 Q334.14,210.8 332.14,213.3 L332.14,250.8 Q334.14,253.3 332.14,255.8 L332.14,269.9 A2.8,2.8 0 0 0 337.74,269.9 L337.74,255.8 Q335.74,253.3 337.74,250.8 L337.74,213.3 Q335.74,210.8 337.74,208.3 L337.74,194.0 A2.8,2.8 0 0 0 332.14,194.0 Z" fill="none" stroke="#444" stroke-width="0.7"/>
<rect x="333.44" y="192.6" width="3.0" height="16.60" rx="1.5" fill="#e4e4e4" stroke="#111" stroke-width="0.85"/>
<rect x="333.44" y="212.4" width="3.0" height="39.30" rx="1.5" fill="#e4e4e4" stroke="#111" stroke-width="0.85"/>
<rect x="333.44" y="254.9" width="3.0" height="16.40" rx="1.5" fill="#e4e4e4" stroke="#111" stroke-width="0.85"/>
<rect x="355.59" y="193" width="1.4" height="78" fill="#e6e6e6"/>
<rect x="355.04" y="191" width="7.5" height="81.7" rx="3.75" fill="none" stroke="#333" stroke-width="0.75"/>
<line x1="358.79" y1="191.5" x2="358.79" y2="272.5" stroke="#444" stroke-width="0.62"/>
<path d="M348.04,194 L348.04,208.3 Q350.04,210.8 348.04,213.3 L348.04,250.8 Q350.04,253.3 348.04,255.8 L348.04,269.9 A2.8,2.8 0 0 0 353.64,269.9 L353.64,255.8 Q351.64,253.3 353.64,250.8 L353.64,213.3 Q351.64,210.8 353.64,208.3 L353.64,194.0 A2.8,2.8 0 0 0 348.04,194.0 Z" fill="none" stroke="#444" stroke-width="0.7"/>
<rect x="349.34" y="192.6" width="3.0" height="16.60" rx="1.5" fill="#e4e4e4" stroke="#111" stroke-width="0.85"/>
<rect x="349.34" y="212.4" width="3.0" height="39.30" rx="1.5" fill="#e4e4e4" stroke="#111" stroke-width="0.85"/>
<rect x="349.34" y="254.9" width="3.0" height="16.40" rx="1.5" fill="#e4e4e4" stroke="#111" stroke-width="0.85"/>
<path d="M363.95,194 L363.95,208.3 Q365.95,210.8 363.95,213.3 L363.95,250.8 Q365.95,253.3 363.95,255.8 L363.95,269.9 A2.8,2.8 0 0 0 369.55,269.9 L369.55,255.8 Q367.55,253.3 369.55,250.8 L369.55,213.3 Q367.55,210.8 369.55,208.3 L369.55,194.0 A2.8,2.8 0 0 0 363.95,194.0 Z" fill="none" stroke="#444" stroke-width="0.7"/>
<rect x="365.25" y="192.6" width="3.0" height="16.60" rx="1.5" fill="#e4e4e4" stroke="#111" stroke-width="0.85"/>
<rect x="365.25" y="212.4" width="3.0" height="39.30" rx="1.5" fill="#e4e4e4" stroke="#111" stroke-width="0.85"/>
<rect x="365.25" y="254.9" width="3.0" height="16.40" rx="1.5" fill="#e4e4e4" stroke="#111" stroke-width="0.85"/>
<line x1="233.5" y1="232" x2="372" y2="232" stroke="#333" stroke-width="0.75"/>
<line x1="141.7" y1="175" x2="141.7" y2="190" stroke="#888" stroke-width="1.00"/>
<path d="M141.7,190 Q141.7,192 144.5,193" fill="none" stroke="#888" stroke-width="0.88"/>
<line x1="141.7" y1="272.5" x2="141.7" y2="288.3" stroke="#555" stroke-width="1.00"/>
<line x1="144.5" y1="176" x2="144.5" y2="272.5" stroke="#1a1a1a" stroke-width="1.00"/>
<line x1="371.9" y1="175.5" x2="371.9" y2="288.3" stroke="#1a1a1a" stroke-width="1.12"/>
<path d="M221,170 L221,232 L215,235.5 L228,236 L221.2,238 L221.2,289" fill="none" stroke="#1a1a1a" stroke-width="1.00"/>
<path d="M233.5,170 L233.5,220 L227,223.5 L239,223.5 L233.5,226 L233.5,289" fill="none" stroke="#1a1a1a" stroke-width="1.00"/>
<line x1="141.7" y1="141.7" x2="373.3" y2="141.7" stroke="#1a1a1a" stroke-width="0.88"/>
<polygon points="142.2,141.7 146.70,140.40 146.70,143.00" fill="#222"/>
<polygon points="372.8,141.7 368.30,143.00 368.30,140.40" fill="#222"/>
<line x1="141.7" y1="141" x2="141.7" y2="175" stroke="#1a1a1a" stroke-width="0.88"/>
<line x1="373.3" y1="141" x2="373.3" y2="185" stroke="#1a1a1a" stroke-width="0.88"/>
<text x="248" y="139.7" font-size="7.8" fill="#111" stroke="#111" stroke-width="0.12" text-anchor="start" transform="translate(248 139.7) scale(1 1.13) translate(-248 -139.7)">1256*</text>
<line x1="144.2" y1="153.5" x2="371.2" y2="153.5" stroke="#1a1a1a" stroke-width="0.88"/>
<polygon points="144.7,153.5 149.20,152.20 149.20,154.80" fill="#222"/>
<polygon points="370.7,153.5 366.20,154.80 366.20,152.20" fill="#222"/>
<line x1="144.2" y1="153" x2="144.2" y2="178" stroke="#1a1a1a" stroke-width="0.88"/>
<line x1="371.2" y1="153" x2="371.2" y2="185" stroke="#1a1a1a" stroke-width="0.88"/>
<text x="232" y="151.7" font-size="8.05" fill="#111" stroke="#111" stroke-width="0.12" text-anchor="start" transform="translate(232 151.7) scale(1 1.13) translate(-232 -151.7)">45x27.5=1210</text>
<line x1="114" y1="167" x2="183" y2="167" stroke="#1a1a1a" stroke-width="0.88"/>
<polygon points="141.4,167 136.90,168.30 136.90,165.70" fill="#222"/>
<polygon points="144.5,167 149.00,165.70 149.00,168.30" fill="#222"/>
<polygon points="153,167 148.50,168.30 148.50,165.70" fill="#222"/>
<line x1="153" y1="167" x2="153" y2="183" stroke="#1a1a1a" stroke-width="0.88"/>
<text x="115.8" y="165" font-size="8.0" fill="#111" stroke="#111" stroke-width="0.12" text-anchor="start" transform="translate(115.8 165) scale(1 1.13) translate(-115.8 -165)">9±2</text>
<text x="166" y="165" font-size="8.2" fill="#111" stroke="#111" stroke-width="0.12" text-anchor="start" transform="translate(166 165) scale(1 1.13) translate(-166 -165)">27.5</text>
<line x1="110" y1="175" x2="110" y2="288.3" stroke="#666" stroke-width="1.00"/>
<polygon points="110,175.5 111.30,180.00 108.70,180.00" fill="#222"/>
<polygon points="110,287.8 108.70,283.30 111.30,283.30" fill="#222"/>
<line x1="109" y1="175.3" x2="142" y2="175.3" stroke="#1a1a1a" stroke-width="0.88"/>
<line x1="109" y1="288.3" x2="142" y2="288.3" stroke="#1a1a1a" stroke-width="0.88"/>
<text x="108.2" y="232.3" font-size="7.9" fill="#111" stroke="#111" stroke-width="0.12" text-anchor="middle" transform="rotate(-90 108.2 232.3) translate(108.2 232.3) scale(1 1.13) translate(-108.2 -232.3)">395*</text>
<line x1="127.2" y1="192" x2="127.2" y2="272.5" stroke="#1a1a1a" stroke-width="0.88"/>
<polygon points="127.2,192.5 128.50,197.00 125.90,197.00" fill="#222"/>
<polygon points="127.2,272 125.90,267.50 128.50,267.50" fill="#222"/>
<line x1="126.5" y1="192" x2="144" y2="192" stroke="#1a1a1a" stroke-width="0.88"/>
<line x1="126.5" y1="272.5" x2="144" y2="272.5" stroke="#1a1a1a" stroke-width="0.88"/>
<text x="125.2" y="232.3" font-size="8.0" fill="#111" stroke="#111" stroke-width="0.12" text-anchor="middle" transform="rotate(-90 125.2 232.3) translate(125.2 232.3) scale(1 1.13) translate(-125.2 -232.3)">280</text>
<line x1="386.3" y1="185.3" x2="386.3" y2="279.2" stroke="#1a1a1a" stroke-width="0.88"/>
<polygon points="386.3,185.8 387.60,190.30 385.00,190.30" fill="#222"/>
<polygon points="386.3,278.7 385.00,274.20 387.60,274.20" fill="#222"/>
<line x1="372.6" y1="185.3" x2="387" y2="185.3" stroke="#1a1a1a" stroke-width="0.88"/>
<line x1="372.6" y1="279.2" x2="387" y2="279.2" stroke="#1a1a1a" stroke-width="0.88"/>
<text x="385.4" y="232.3" font-size="8.0" fill="#111" stroke="#111" stroke-width="0.12" text-anchor="middle" transform="rotate(-90 385.4 232.3) translate(385.4 232.3) scale(1 1.13) translate(-385.4 -232.3)">326±2</text>
<line x1="109" y1="306.4" x2="220" y2="306.4" stroke="#1a1a1a" stroke-width="0.88"/>
<polygon points="141.5,306.4 137.00,307.70 137.00,305.10" fill="#222"/>
<polygon points="149.9,306.4 154.40,305.10 154.40,307.70" fill="#222"/>
<polygon points="164.5,306.4 160.00,307.70 160.00,305.10" fill="#222"/>
<polygon points="188.6,306.4 193.10,305.10 193.10,307.70" fill="#222"/>
<line x1="141.7" y1="288.3" x2="141.7" y2="306.7" stroke="#1a1a1a" stroke-width="0.88"/>
<line x1="149.7" y1="273" x2="149.7" y2="313" stroke="#1a1a1a" stroke-width="0.88"/>
<line x1="164.7" y1="273" x2="164.7" y2="306.4" stroke="#1a1a1a" stroke-width="0.88"/>
<line x1="180.5" y1="273" x2="180.5" y2="306.4" stroke="#1a1a1a" stroke-width="0.88"/>
<line x1="188.4" y1="273" x2="188.4" y2="306.4" stroke="#1a1a1a" stroke-width="0.88"/>
<text x="111.3" y="304.2" font-size="7.9" fill="#111" stroke="#111" stroke-width="0.12" text-anchor="start" transform="translate(111.3 304.2) scale(1 1.13) translate(-111.3 -304.2)">23±2</text>
<text x="152.3" y="304.2" font-size="7.9" fill="#111" stroke="#111" stroke-width="0.12" text-anchor="start" transform="translate(152.3 304.2) scale(1 1.13) translate(-152.3 -304.2)">55</text>
<text x="202" y="304.4" font-size="8.1" fill="#111" stroke="#111" stroke-width="0.12" text-anchor="start" transform="translate(202 304.4) scale(1 1.13) translate(-202 -304.4)">27.5</text>
<line x1="149.7" y1="313" x2="367" y2="313" stroke="#1a1a1a" stroke-width="0.88"/>
<polygon points="150.2,313 154.70,311.70 154.70,314.30" fill="#222"/>
<polygon points="366.5,313 362.00,314.30 362.00,311.70" fill="#222"/>
<line x1="367" y1="283" x2="367" y2="313" stroke="#1a1a1a" stroke-width="0.88"/>
<text x="235.6" y="311" font-size="8.0" fill="#111" stroke="#111" stroke-width="0.12" text-anchor="start" transform="translate(235.6 311) scale(1 1.13) translate(-235.6 -311)">22x55=1210</text>
<text x="404.5" y="145.8" font-size="7.7" fill="#111" stroke="#111" stroke-width="0.12" text-anchor="start" transform="translate(404.5 145.8) scale(1 1.13) translate(-404.5 -145.8)">15±1</text>
<line x1="402.5" y1="147.8" x2="450" y2="147.8" stroke="#1a1a1a" stroke-width="0.88"/>
<polygon points="434.5,147.8 430.00,149.10 430.00,146.50" fill="#222"/>
<polygon points="439.4,147.8 443.90,146.50 443.90,149.10" fill="#222"/>
<line x1="434.7" y1="147" x2="434.7" y2="169.2" stroke="#1a1a1a" stroke-width="1.00"/>
<line x1="439.2" y1="147" x2="439.2" y2="161.7" stroke="#1a1a1a" stroke-width="0.88"/>
<line x1="434.7" y1="161.7" x2="467.5" y2="161.7" stroke="#1a1a1a" stroke-width="1.00"/>
<line x1="434.7" y1="169.2" x2="467.5" y2="169.2" stroke="#1a1a1a" stroke-width="1.12"/>
<path d="M442,156.7 L446.7,160 L447.5,157.5" fill="none" stroke="#1a1a1a" stroke-width="1.00"/>
<line x1="467.2" y1="137" x2="467.2" y2="255.8" stroke="#1a1a1a" stroke-width="0.88"/>
<polygon points="467.2,161.4 465.90,156.90 468.50,156.90" fill="#222"/>
<polygon points="467.2,169.5 468.50,174.00 465.90,174.00" fill="#222"/>
<polygon points="467.2,255.3 465.90,250.80 468.50,250.80" fill="#222"/>
<text x="465.5" y="144.3" font-size="7.9" fill="#111" stroke="#111" stroke-width="0.12" text-anchor="middle" transform="rotate(-90 465.5 144.3) translate(465.5 144.3) scale(1 1.13) translate(-465.5 -144.3)">22</text>
<text x="465.5" y="212.8" font-size="7.9" fill="#111" stroke="#111" stroke-width="0.12" text-anchor="middle" transform="rotate(-90 465.5 212.8) translate(465.5 212.8) scale(1 1.13) translate(-465.5 -212.8)">304</text>
<path d="M438.3,172 L435.3,180 L435.3,246 L438.3,255 L440.4,244 L440.4,180 Z" fill="#e8e8e8"/>
<path d="M438.3,169.5 L438.3,172 L435.3,180 L435.3,246 L438.3,255" fill="none" stroke="#777" stroke-width="1.00"/>
<path d="M438.3,172 L440.2,180 L440.9,182 L439.7,184 L440.9,186 L439.7,188 L440.9,190 L439.7,192 L440.9,194 L439.7,196 L440.9,198 L439.7,200 L440.9,202 L439.7,204 L440.9,206 L439.7,208 L440.9,210 L439.7,212 L440.9,214 L439.7,216 L440.9,218 L439.7,220 L440.9,222 L439.7,224 L440.9,226 L439.7,228 L440.9,230 L439.7,232 L440.9,234 L439.7,236 L440.9,238 L439.7,240 L440.9,242 L439.7,244 L440.2,244 L438.3,255" fill="none" stroke="#222" stroke-width="1.00"/>
<path d="M437.6,178 L437.6,250" fill="none" stroke="#888" stroke-width="0.75"/>
<line x1="434.5" y1="213" x2="441.5" y2="213" stroke="#666" stroke-width="0.62"/>
<line x1="435" y1="255.8" x2="467" y2="255.8" stroke="#1a1a1a" stroke-width="1.00"/>
<path d="M435,257.5 L430.8,300.8" fill="none" stroke="#1a1a1a" stroke-width="1.00"/>
<path d="M435,263.3 L446.7,265 L442.5,301.7" fill="none" stroke="#1a1a1a" stroke-width="1.00"/>
<path d="M446.7,265 L459,284" fill="none" stroke="#1a1a1a" stroke-width="1.00"/>
<path d="M443.3,270 L448,264.5" fill="none" stroke="#1a1a1a" stroke-width="0.88"/>
<path d="M443.3,270 L454,286.7" fill="none" stroke="#1a1a1a" stroke-width="1.00"/>
<line x1="459" y1="284" x2="454" y2="286.7" stroke="#1a1a1a" stroke-width="0.88"/>
<line x1="445" y1="294" x2="485" y2="266.7" stroke="#1a1a1a" stroke-width="0.88"/>
<polygon points="449,291.3 451.99,287.69 453.45,289.84" fill="#222"/>
<polygon points="458,285.2 455.01,288.81 453.55,286.66" fill="#222"/>
<text x="476" y="271" font-size="7.8" fill="#111" stroke="#111" stroke-width="0.12" text-anchor="middle" transform="rotate(-34 476 271) translate(476 271) scale(1 1.13) translate(-476 -271)">23±1</text>
<line x1="390.8" y1="296.7" x2="454" y2="303.3" stroke="#1a1a1a" stroke-width="0.88"/>
<polygon points="430.8,300.9 426.19,301.75 426.45,299.16" fill="#222"/>
<polygon points="442.5,302.1 447.11,301.25 446.85,303.84" fill="#222"/>
<text x="393.3" y="295" font-size="7.9" fill="#111" stroke="#111" stroke-width="0.12" text-anchor="start" transform="rotate(5 393.3 295) translate(393.3 295) scale(1 1.13) translate(-393.3 -295)">44±1.5</text>
<text x="361" y="326.0" font-size="6.65" fill="#3a3a3a" stroke="#3a3a3a" stroke-width="0.03" text-anchor="start">Комплектация:</text>
<text x="361" y="333.62" font-size="6.65" fill="#3a3a3a" stroke="#3a3a3a" stroke-width="0.03" text-anchor="start">1 - платформа переходного мостика - 1 шт.</text>
<text x="361" y="341.24" font-size="6.65" fill="#3a3a3a" stroke="#3a3a3a" stroke-width="0.03" text-anchor="start">2 - кронштейн верхний - 2 шт.</text>
<text x="361" y="348.86" font-size="6.65" fill="#3a3a3a" stroke="#3a3a3a" stroke-width="0.03" text-anchor="start">3 - кронштейн нижний - 2 шт.</text>
<text x="361" y="356.48" font-size="6.65" fill="#3a3a3a" stroke="#3a3a3a" stroke-width="0.03" text-anchor="start">4 - болт М8x20 - 14 шт.</text>
<text x="361" y="364.1" font-size="6.65" fill="#3a3a3a" stroke="#3a3a3a" stroke-width="0.03" text-anchor="start">5 - гайка М8 - 14 шт.</text>
<text x="361" y="371.72" font-size="6.65" fill="#3a3a3a" stroke="#3a3a3a" stroke-width="0.03" text-anchor="start">6 - шайба Ø8 - 20 шт.</text>
<text x="361" y="379.34000000000003" font-size="6.65" fill="#3a3a3a" stroke="#3a3a3a" stroke-width="0.03" text-anchor="start">7 - болт-шуруп Ø8x50 - 6 шт.</text>
<text x="361" y="386.96" font-size="6.65" fill="#3a3a3a" stroke="#3a3a3a" stroke-width="0.03" text-anchor="start">8 - прокладка из пластиката Н-7мм - 8 шт.</text>
<text x="361" y="394.58" font-size="6.65" fill="#3a3a3a" stroke="#3a3a3a" stroke-width="0.03" text-anchor="start">9 - прокладка из пластиката Н-14мм - 2 шт.</text>
<text x="128.7" y="412.2" font-size="9.75" fill="#222" stroke="#222" stroke-width="0.12" text-anchor="start">Кронштейн верхний</text>
<path d="M121.7,488 L156,455 Q163,447.5 168,447.5 L176,447.5 Q182,447.5 188,455 L223.3,487.5 L223.3,499.7" fill="none" stroke="#333" stroke-width="1.00"/>
<path d="M121,488 L121,497 Q121,499.7 124,499.7" fill="none" stroke="#1a1a1a" stroke-width="1.00"/>
<line x1="121.7" y1="488" x2="151.7" y2="488" stroke="#111" stroke-width="1.62"/>
<line x1="194" y1="488" x2="223.3" y2="488" stroke="#111" stroke-width="1.62"/>
<path d="M151.7,488 Q173,466 194,488" fill="none" stroke="#222" stroke-width="1.12"/>
<circle cx="150" cy="470.8" r="1.5" fill="#222" stroke="#1a1a1a" stroke-width="0"/>
<circle cx="153" cy="461.7" r="1.5" fill="#222" stroke="#1a1a1a" stroke-width="0"/>
<circle cx="156.3" cy="457.5" r="1.5" fill="#222" stroke="#1a1a1a" stroke-width="0"/>
<circle cx="159.7" cy="454.2" r="1.5" fill="#222" stroke="#1a1a1a" stroke-width="0"/>
<circle cx="168" cy="450.5" r="1.5" fill="#222" stroke="#1a1a1a" stroke-width="0"/>
<circle cx="173" cy="450.5" r="1.5" fill="#222" stroke="#1a1a1a" stroke-width="0"/>
<circle cx="177.5" cy="450.5" r="1.5" fill="#222" stroke="#1a1a1a" stroke-width="0"/>
<circle cx="186.7" cy="454" r="1.5" fill="#222" stroke="#1a1a1a" stroke-width="0"/>
<circle cx="190" cy="458" r="1.5" fill="#222" stroke="#1a1a1a" stroke-width="0"/>
<circle cx="193.3" cy="462" r="1.5" fill="#222" stroke="#1a1a1a" stroke-width="0"/>
<circle cx="196.3" cy="470.8" r="1.5" fill="#222" stroke="#1a1a1a" stroke-width="0"/>
<circle cx="173" cy="473.3" r="1.5" fill="#222" stroke="#1a1a1a" stroke-width="0"/>
<line x1="134.3" y1="474.2" x2="137.3" y2="474.2" stroke="#1a1a1a" stroke-width="0.75"/>
<line x1="135.8" y1="472.7" x2="135.8" y2="475.7" stroke="#1a1a1a" stroke-width="0.75"/>
<line x1="209.3" y1="474.2" x2="212.3" y2="474.2" stroke="#1a1a1a" stroke-width="0.75"/>
<line x1="210.8" y1="472.7" x2="210.8" y2="475.7" stroke="#1a1a1a" stroke-width="0.75"/>
<line x1="101.7" y1="447.5" x2="166.7" y2="447.5" stroke="#1a1a1a" stroke-width="0.88"/>
<line x1="102" y1="447.5" x2="102" y2="559" stroke="#1a1a1a" stroke-width="0.88"/>
<polygon points="102,448 103.30,452.50 100.70,452.50" fill="#222"/>
<polygon points="102,487.7 100.70,483.20 103.30,483.20" fill="#222"/>
<polygon points="102,488.5 103.30,493.00 100.70,493.00" fill="#222"/>
<polygon points="102,512 100.70,507.50 103.30,507.50" fill="#222"/>
<polygon points="102,512.8 103.30,517.30 100.70,517.30" fill="#222"/>
<line x1="101.7" y1="488" x2="121.7" y2="488" stroke="#1a1a1a" stroke-width="0.88"/>
<text x="100" y="467.5" font-size="8.0" fill="#111" stroke="#111" stroke-width="0.12" text-anchor="middle" transform="rotate(-90 100 467.5) translate(100 467.5) scale(1 1.13) translate(-100 -467.5)">142</text>
<text x="100" y="496.7" font-size="8.0" fill="#111" stroke="#111" stroke-width="0.12" text-anchor="middle" transform="rotate(-90 100 496.7) translate(100 496.7) scale(1 1.13) translate(-100 -496.7)">27.5</text>
<line x1="124" y1="499.7" x2="223.3" y2="499.7" stroke="#1a1a1a" stroke-width="0.88"/>
<polygon points="124.5,499.7 129.00,498.40 129.00,501.00" fill="#222"/>
<polygon points="222.8,499.7 218.30,501.00 218.30,498.40" fill="#222"/>
<text x="165" y="497.5" font-size="7.9" fill="#111" stroke="#111" stroke-width="0.12" text-anchor="start" transform="translate(165 497.5) scale(1 1.13) translate(-165 -497.5)">354*</text>
<path d="M241,436.7 L241,477 L270.4,477" fill="none" stroke="#222" stroke-width="1.75"/>
<line x1="241" y1="477" x2="241" y2="489" stroke="#1a1a1a" stroke-width="0.88"/>
<line x1="258.7" y1="477" x2="258.7" y2="489" stroke="#1a1a1a" stroke-width="0.88"/>
<line x1="241" y1="489" x2="258.7" y2="489" stroke="#1a1a1a" stroke-width="0.88"/>
<polygon points="241.5,489 246.00,487.70 246.00,490.30" fill="#222"/>
<polygon points="258.2,489 253.70,490.30 253.70,487.70" fill="#222"/>
<text x="245" y="486.7" font-size="8.2" fill="#111" stroke="#111" stroke-width="0.12" text-anchor="start" transform="translate(245 486.7) scale(1 1.13) translate(-245 -486.7)">60</text>
<line x1="270.7" y1="454.4" x2="270.7" y2="489.3" stroke="#1a1a1a" stroke-width="0.88"/>
<polygon points="270.7,476.5 269.40,472.00 272.00,472.00" fill="#222"/>
<polygon points="270.7,477.5 272.00,482.00 269.40,482.00" fill="#222"/>
<text x="268.5" y="460" font-size="7.8" fill="#111" stroke="#111" stroke-width="0.12" text-anchor="middle" transform="rotate(-90 268.5 460) translate(268.5 460) scale(1 1.13) translate(-268.5 -460)">2*</text>
<line x1="120" y1="512.5" x2="224.2" y2="512.5" stroke="#222" stroke-width="1.75"/>
<line x1="124.2" y1="514.2" x2="194.2" y2="514.2" stroke="#1a1a1a" stroke-width="0.88"/>
<line x1="120" y1="512.5" x2="120" y2="559.2" stroke="#1a1a1a" stroke-width="1.00"/>
<line x1="124.2" y1="514.2" x2="124.2" y2="559.2" stroke="#1a1a1a" stroke-width="1.00"/>
<line x1="224.2" y1="512.5" x2="224.2" y2="529.2" stroke="#1a1a1a" stroke-width="1.00"/>
<path d="M194.2,514.2 L212.5,529.2 L224.2,529.2" fill="none" stroke="#1a1a1a" stroke-width="1.00"/>
<path d="M149,514.2 L134,528.3 L101.7,528.3" fill="none" stroke="#666" stroke-width="1.00"/>
<line x1="101.7" y1="518.7" x2="124.2" y2="518.7" stroke="#1a1a1a" stroke-width="0.88"/>
<line x1="101.7" y1="526.3" x2="124.2" y2="526.3" stroke="#1a1a1a" stroke-width="0.88"/>
<circle cx="124.2" cy="518.7" r="1.2" fill="#222" stroke="#1a1a1a" stroke-width="0"/>
<circle cx="124.2" cy="526.3" r="1.2" fill="#222" stroke="#1a1a1a" stroke-width="0"/>
<circle cx="220.3" cy="518" r="1.2" fill="#222" stroke="#1a1a1a" stroke-width="0"/>
<circle cx="220.3" cy="525.8" r="1.2" fill="#222" stroke="#1a1a1a" stroke-width="0"/>
<line x1="220.3" y1="516" x2="220.3" y2="528" stroke="#1a1a1a" stroke-width="0.75"/>
<line x1="173.3" y1="508.3" x2="173.3" y2="528.3" stroke="#1a1a1a" stroke-width="0.88"/>
<text x="100" y="546.3" font-size="8.0" fill="#111" stroke="#111" stroke-width="0.12" text-anchor="middle" transform="rotate(-90 100 546.3) translate(100 546.3) scale(1 1.13) translate(-100 -546.3)">12</text>
<text x="99.2" y="557" font-size="7.6" fill="#111" stroke="#111" stroke-width="0.12" text-anchor="start" transform="translate(99.2 557) scale(1 1.13) translate(-99.2 -557)">14</text>
<line x1="96.7" y1="559.3" x2="220" y2="559.3" stroke="#1a1a1a" stroke-width="0.88"/>
<polygon points="119.5,559.3 115.00,560.60 115.00,558.00" fill="#222"/>
<polygon points="124.7,559.3 129.20,558.00 129.20,560.60" fill="#222"/>
<polygon points="219.5,559.3 215.00,560.60 215.00,558.00" fill="#222"/>
<line x1="220" y1="526" x2="220" y2="559.7" stroke="#1a1a1a" stroke-width="0.88"/>
<text x="161.7" y="557.5" font-size="7.8" fill="#111" stroke="#111" stroke-width="0.12" text-anchor="start" transform="translate(161.7 557.5) scale(1 1.13) translate(-161.7 -557.5)">326±1</text>
<text x="378.7" y="411.7" font-size="9.6" fill="#222" stroke="#222" stroke-width="0.12" text-anchor="start">Кронштейн нижний</text>
<text x="397.5" y="419" font-size="7.8" fill="#111" stroke="#111" stroke-width="0.12" text-anchor="start" transform="translate(397.5 419) scale(1 1.13) translate(-397.5 -419)">109</text>
<line x1="383.3" y1="421.2" x2="424.2" y2="421.2" stroke="#1a1a1a" stroke-width="0.88"/>
<polygon points="383.8,421.2 388.30,419.90 388.30,422.50" fill="#222"/>
<polygon points="423.7,421.2 419.20,422.50 419.20,419.90" fill="#222"/>
<line x1="383.3" y1="420.8" x2="383.3" y2="448.3" stroke="#1a1a1a" stroke-width="0.88"/>
<line x1="424.2" y1="420.8" x2="424.2" y2="448.3" stroke="#1a1a1a" stroke-width="0.88"/>
<text x="400" y="432" font-size="7.6" fill="#111" stroke="#111" stroke-width="0.12" text-anchor="start" transform="translate(400 432) scale(1 1.13) translate(-400 -432)">43</text>
<line x1="383.3" y1="434.7" x2="424.2" y2="434.7" stroke="#1a1a1a" stroke-width="0.88"/>
<polygon points="396.3,434.7 391.80,436.00 391.80,433.40" fill="#222"/>
<polygon points="410.8,434.7 415.30,433.40 415.30,436.00" fill="#222"/>
<line x1="396.3" y1="434.7" x2="396.3" y2="485" stroke="#1a1a1a" stroke-width="0.88"/>
<line x1="410.8" y1="434.7" x2="410.8" y2="485" stroke="#1a1a1a" stroke-width="0.88"/>
<path d="M324.2,502.5 L324.2,490.8 L343.3,490.8 L382.5,448.3 L424.2,448.3 L463.3,490 L483.7,490 L483.7,502.5" fill="none" stroke="#333" stroke-width="1.00"/>
<line x1="324.2" y1="502.5" x2="483.7" y2="502.5" stroke="#222" stroke-width="1.75"/>
<line x1="305" y1="448.3" x2="382.5" y2="448.3" stroke="#1a1a1a" stroke-width="0.88"/>
<line x1="329" y1="451.7" x2="380.5" y2="451.7" stroke="#999" stroke-width="0.88"/>
<line x1="316.7" y1="461.3" x2="420" y2="461.3" stroke="#1a1a1a" stroke-width="0.88"/>
<line x1="316.7" y1="481.3" x2="420" y2="481.3" stroke="#1a1a1a" stroke-width="0.88"/>
<line x1="316.7" y1="490.8" x2="324.2" y2="490.8" stroke="#1a1a1a" stroke-width="0.88"/>
<line x1="404.2" y1="450" x2="404.2" y2="496" stroke="#1a1a1a" stroke-width="0.88"/>
<circle cx="404.2" cy="451.7" r="1.6" fill="none" stroke="#222" stroke-width="1.0"/>
<rect x="396.9" y="457.3" width="14.6" height="8.3" rx="4.1" fill="none" stroke="#1a1a1a" stroke-width="0.9"/>
<rect x="396.9" y="477.6" width="14.6" height="8.3" rx="4.1" fill="none" stroke="#1a1a1a" stroke-width="0.9"/>
<rect x="376.2" y="465.7" width="2.6" height="2.6" rx="0" fill="#999" stroke="#222" stroke-width="1.2"/>
<rect x="380.4" y="470.7" width="2.6" height="2.6" rx="0" fill="#999" stroke="#222" stroke-width="1.2"/>
<rect x="384.5" y="475.0" width="2.6" height="2.6" rx="0" fill="#999" stroke="#222" stroke-width="1.2"/>
<rect x="427.9" y="465.0" width="2.6" height="2.6" rx="0" fill="#999" stroke="#222" stroke-width="1.2"/>
<rect x="425.4" y="470.7" width="2.6" height="2.6" rx="0" fill="#999" stroke="#222" stroke-width="1.2"/>
<rect x="420.4" y="475.0" width="2.6" height="2.6" rx="0" fill="#999" stroke="#222" stroke-width="1.2"/>
<line x1="305" y1="448.3" x2="305" y2="502.5" stroke="#1a1a1a" stroke-width="0.88"/>
<polygon points="305,448.8 306.30,453.30 303.70,453.30" fill="#222"/>
<polygon points="305,502 303.70,497.50 306.30,497.50" fill="#222"/>
<text x="303" y="475" font-size="7.9" fill="#111" stroke="#111" stroke-width="0.12" text-anchor="middle" transform="rotate(-90 303 475) translate(303 475) scale(1 1.13) translate(-303 -475)">147±1.5</text>
<line x1="305.8" y1="502.5" x2="324.2" y2="502.5" stroke="#1a1a1a" stroke-width="0.88"/>
<line x1="316.3" y1="436.7" x2="316.3" y2="515" stroke="#1a1a1a" stroke-width="0.88"/>
<polygon points="316.3,447.8 315.00,443.30 317.60,443.30" fill="#222"/>
<polygon points="316.3,461.8 317.60,466.30 315.00,466.30" fill="#222"/>
<polygon points="316.3,480.8 315.00,476.30 317.60,476.30" fill="#222"/>
<polygon points="316.3,491.3 317.60,495.80 315.00,495.80" fill="#222"/>
<polygon points="316.3,503 317.60,507.50 315.00,507.50" fill="#222"/>
<text x="314.3" y="455" font-size="7.9" fill="#111" stroke="#111" stroke-width="0.12" text-anchor="middle" transform="rotate(-90 314.3 455) translate(314.3 455) scale(1 1.13) translate(-314.3 -455)">34</text>
<text x="314.3" y="471.3" font-size="7.9" fill="#111" stroke="#111" stroke-width="0.12" text-anchor="middle" transform="rotate(-90 314.3 471.3) translate(314.3 471.3) scale(1 1.13) translate(-314.3 -471.3)">56</text>
<text x="314.3" y="497" font-size="7.9" fill="#111" stroke="#111" stroke-width="0.12" text-anchor="middle" transform="rotate(-90 314.3 497) translate(314.3 497) scale(1 1.13) translate(-314.3 -497)">34</text>
<line x1="328" y1="425" x2="328" y2="463.3" stroke="#1a1a1a" stroke-width="0.88"/>
<polygon points="328,447.8 326.70,443.30 329.30,443.30" fill="#222"/>
<polygon points="328,452.2 329.30,456.70 326.70,456.70" fill="#222"/>
<text x="325.5" y="430.5" font-size="7.9" fill="#111" stroke="#111" stroke-width="0.12" text-anchor="middle" transform="rotate(-90 325.5 430.5) translate(325.5 430.5) scale(1 1.13) translate(-325.5 -430.5)">10</text>
<line x1="329" y1="502.5" x2="329" y2="500" stroke="#1a1a1a" stroke-width="0.75"/>
<line x1="347.5" y1="502.5" x2="347.5" y2="500" stroke="#1a1a1a" stroke-width="0.75"/>
<line x1="324.2" y1="502.5" x2="324.2" y2="515" stroke="#1a1a1a" stroke-width="1.00"/>
<line x1="324.2" y1="532.4" x2="324.2" y2="580" stroke="#1a1a1a" stroke-width="1.12"/>
<line x1="483.7" y1="502.5" x2="483.7" y2="515.3" stroke="#1a1a1a" stroke-width="0.88"/>
<line x1="324.2" y1="515" x2="483.7" y2="515" stroke="#1a1a1a" stroke-width="0.88"/>
<polygon points="324.7,515 329.20,513.70 329.20,516.30" fill="#222"/>
<polygon points="483.2,515 478.70,516.30 478.70,513.70" fill="#222"/>
<text x="395.6" y="512.4" font-size="8.0" fill="#111" stroke="#111" stroke-width="0.12" text-anchor="start" transform="translate(395.6 512.4) scale(1 1.13) translate(-395.6 -512.4)">425*</text>
<line x1="324.2" y1="532.4" x2="483.6" y2="532.4" stroke="#1a1a1a" stroke-width="0.88"/>
<polygon points="324.7,532.4 329.20,531.10 329.20,533.70" fill="#222"/>
<polygon points="483.1,532.4 478.60,533.70 478.60,531.10" fill="#222"/>
<text x="395.6" y="530" font-size="8.0" fill="#111" stroke="#111" stroke-width="0.12" text-anchor="start" transform="translate(395.6 530) scale(1 1.13) translate(-395.6 -530)">425*</text>
<path d="M496.5,448.3 L496.5,502.7 L522.7,502.7" fill="none" stroke="#222" stroke-width="1.75"/>
<line x1="496.5" y1="502.7" x2="496.5" y2="523.3" stroke="#1a1a1a" stroke-width="0.88"/>
<line x1="508" y1="502.7" x2="508" y2="523.3" stroke="#1a1a1a" stroke-width="0.88"/>
<line x1="484" y1="523.3" x2="520" y2="523.3" stroke="#1a1a1a" stroke-width="0.88"/>
<polygon points="496,523.3 491.50,524.60 491.50,522.00" fill="#222"/>
<polygon points="508.5,523.3 513.00,522.00 513.00,524.60" fill="#222"/>
<text x="498" y="520.7" font-size="7.8" fill="#111" stroke="#111" stroke-width="0.12" text-anchor="start" transform="translate(498 520.7) scale(1 1.13) translate(-498 -520.7)">32</text>
<line x1="522.3" y1="490.7" x2="522.3" y2="536" stroke="#1a1a1a" stroke-width="0.88"/>
<polygon points="522.3,502.2 521.00,497.70 523.60,497.70" fill="#222"/>
<polygon points="522.3,503.2 523.60,507.70 521.00,507.70" fill="#222"/>
<text x="519.5" y="530.7" font-size="7.8" fill="#111" stroke="#111" stroke-width="0.12" text-anchor="middle" transform="rotate(-90 519.5 530.7) translate(519.5 530.7) scale(1 1.13) translate(-519.5 -530.7)">2*</text>
<line x1="324.2" y1="543" x2="483.6" y2="543" stroke="#222" stroke-width="1.75"/>
<line x1="483.6" y1="532.4" x2="483.6" y2="554" stroke="#1a1a1a" stroke-width="1.00"/>
<line x1="324.2" y1="554" x2="483.6" y2="554" stroke="#1a1a1a" stroke-width="0.88"/>
<line x1="305" y1="550.3" x2="349.2" y2="550.3" stroke="#1a1a1a" stroke-width="0.88"/>
<line x1="460" y1="549.6" x2="478" y2="549.6" stroke="#1a1a1a" stroke-width="0.88"/>
<line x1="305" y1="554.2" x2="324.2" y2="554.2" stroke="#777" stroke-width="0.88"/>
<circle cx="329.7" cy="550" r="1.5" fill="none" stroke="#222" stroke-width="0.9"/>
<line x1="329.7" y1="547" x2="329.7" y2="553" stroke="#1a1a1a" stroke-width="0.75"/>
<circle cx="348" cy="550" r="1.5" fill="none" stroke="#222" stroke-width="0.9"/>
<line x1="348" y1="547" x2="348" y2="553" stroke="#1a1a1a" stroke-width="0.75"/>
<circle cx="460" cy="550" r="1.5" fill="none" stroke="#222" stroke-width="0.9"/>
<line x1="460" y1="547" x2="460" y2="553" stroke="#1a1a1a" stroke-width="0.75"/>
<circle cx="478" cy="550" r="1.5" fill="none" stroke="#222" stroke-width="0.9"/>
<line x1="478" y1="547" x2="478" y2="553" stroke="#1a1a1a" stroke-width="0.75"/>
<text x="300.8" y="533" font-size="7.9" fill="#111" stroke="#111" stroke-width="0.12" text-anchor="middle" transform="rotate(-90 300.8 533) translate(300.8 533) scale(1 1.13) translate(-300.8 -533)">12</text>
<line x1="305.3" y1="527.5" x2="305.3" y2="566.7" stroke="#1a1a1a" stroke-width="0.88"/>
<polygon points="305.3,542.5 304.00,538.00 306.60,538.00" fill="#222"/>
<polygon points="305.3,554.7 306.60,559.20 304.00,559.20" fill="#222"/>
<text x="307.5" y="565" font-size="7.8" fill="#111" stroke="#111" stroke-width="0.12" text-anchor="start" transform="translate(307.5 565) scale(1 1.13) translate(-307.5 -565)">15</text>
<text x="334.2" y="565" font-size="7.8" fill="#111" stroke="#111" stroke-width="0.12" text-anchor="start" transform="translate(334.2 565) scale(1 1.13) translate(-334.2 -565)">48</text>
<line x1="305" y1="567" x2="354" y2="567" stroke="#1a1a1a" stroke-width="0.88"/>
<polygon points="323.7,567 319.20,568.30 319.20,565.70" fill="#222"/>
<polygon points="329.7,567 334.20,565.70 334.20,568.30" fill="#222"/>
<polygon points="347.5,567 343.00,568.30 343.00,565.70" fill="#222"/>
<line x1="329.2" y1="550" x2="329.2" y2="567" stroke="#1a1a1a" stroke-width="0.88"/>
<line x1="347.5" y1="550" x2="347.5" y2="567" stroke="#1a1a1a" stroke-width="0.88"/>
<line x1="460" y1="549.6" x2="460" y2="567.6" stroke="#1a1a1a" stroke-width="0.88"/>
<line x1="478" y1="549.6" x2="478" y2="579.6" stroke="#1a1a1a" stroke-width="0.88"/>
<line x1="329.5" y1="567.6" x2="460" y2="567.6" stroke="#1a1a1a" stroke-width="0.88"/>
<polygon points="459.5,567.6 455.00,568.90 455.00,566.30" fill="#222"/>
<text x="397" y="565.6" font-size="8.0" fill="#111" stroke="#111" stroke-width="0.12" text-anchor="start" transform="translate(397 565.6) scale(1 1.13) translate(-397 -565.6)">299</text>
<line x1="324.2" y1="579.6" x2="478" y2="579.6" stroke="#1a1a1a" stroke-width="0.88"/>
<polygon points="477.5,579.6 473.00,580.90 473.00,578.30" fill="#222"/>
<text x="394" y="577.6" font-size="8.3" fill="#111" stroke="#111" stroke-width="0.12" text-anchor="start" transform="translate(394 577.6) scale(1 1.13) translate(-394 -577.6)">410</text>
</svg></body></html>
